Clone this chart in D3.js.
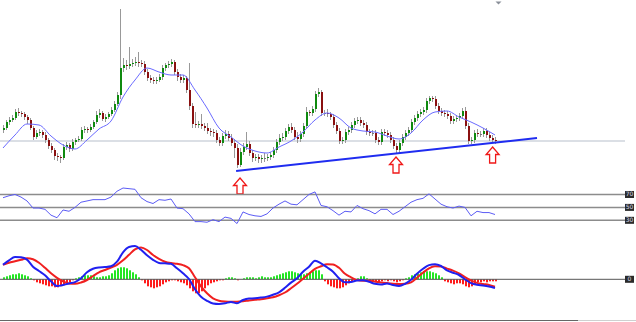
<!DOCTYPE html>
<html>
<head>
  <title>Price with RSI and MACD</title>
  <script src="https://cdn.jsdelivr.net/npm/d3@7.0.0/dist/d3.min.js"></script>
  <style>
    body { margin: 0; background: #fff; }
  </style>
</head>
<body>
  <div id="chart"></div>

  <script>
    // candle data, one entry per bar (price units are arbitrary, no axis shown)
    var opens = [70,72,78,80,82,88,87,86,83,80, 72,63,67,68,65,60,54,50,44,43,
      42,53,55,51,58,60,61,70,71,70, 73,78,85,87,81,83,86,90,96,105,
      132,135,134,136,137,138,137,136,128,122, 120,119,120,123,132,135,136,138,128,123,
      120,122,110,94,76,75,76,74,72,69, 68,67,60,57,64,66,62,57,52,35,
      48,53,56,47,42,43,41,42,42,43, 45,50,58,62,63,69,73,70,63,61,
      66,74,88,87,91,106,108,87,87,86, 83,75,69,59,60,68,70,75,79,80,
      77,75,68,67,67,60,58,68,67,65, 60,54,50,57,63,67,70,78,82,86,
      88,90,99,102,101,94,89,87,86,84, 79,81,82,84,89,74,59,60,67,66,
      66,69,65,62,60];
    var highs = [75,80,83,85,91,92,89,88,85,82, 74,70,71,70,68,62,57,52,47,45,
      56,58,57,61,62,64,73,74,73,76, 80,89,91,89,86,88,93,99,108,191,
      142,140,153,141,143,148,140,139,131,125, 123,123,126,135,137,139,141,140,131,126,
      125,124,137,97,88,79,86,77,77,72, 71,70,63,67,70,69,66,61,56,52,
      57,68,59,50,46,46,45,47,46,48, 53,61,66,67,72,76,77,73,68,69,
      77,93,90,94,109,112,110,90,91,88, 86,78,72,63,71,73,78,82,83,83,
      80,78,71,70,70,63,71,71,70,68, 63,57,60,66,70,73,81,85,89,91,
      93,102,104,104,104,97,92,90,89,87, 84,85,87,92,93,77,63,70,71,69,
      72,72,68,65,63];
    var lows = [67,70,75,78,80,84,83,80,76,70, 60,61,64,62,57,51,47,40,39,37,
      40,50,48,49,55,58,59,67,67,68, 71,76,82,79,78,81,84,88,94,101,
      128,130,131,133,134,133,133,125,119,117, 116,116,118,120,129,132,133,125,119,117,
      117,107,90,72,72,72,71,69,66,64, 63,57,54,54,61,59,54,42,32,33,
      45,50,44,38,39,37,37,38,39,40, 42,47,55,59,60,66,67,60,57,58,
      63,72,84,84,88,103,84,84,83,80, 72,66,56,56,57,65,67,72,76,74,
      72,65,64,64,57,55,55,64,62,57, 51,46,47,54,60,64,67,75,79,83,
      85,87,96,98,91,86,84,83,81,76, 76,78,79,81,71,56,56,57,63,63,
      63,62,59,57,56];
    var closes = [72,78,80,82,88,87,86,83,80,72, 63,67,68,65,60,54,50,44,43,42,
      53,55,51,58,60,61,70,71,70,73, 78,85,87,81,83,86,90,96,105,132,
      135,134,136,137,138,137,136,128,122,120, 119,120,123,132,135,136,138,128,123,120,
      122,110,94,76,75,76,74,72,69,68, 67,60,57,64,66,62,57,52,35,48,
      53,56,47,42,43,41,42,42,43,45, 50,58,62,63,69,73,70,63,61,66,
      74,88,87,91,106,108,87,87,86,83, 75,69,59,60,68,70,75,79,80,77,
      75,68,67,67,60,58,68,67,65,60, 54,50,57,63,67,70,78,82,86,88,
      90,99,102,101,94,89,87,86,84,79, 81,82,84,89,74,59,60,67,66,66,
      69,65,62,60,59];

    // moving average, read every 4th bar
    var maStep = 4;
    var maValues = [52,65,76,75,64,55,51,60,71,79,103,120,132,128,125,125,110,92,72,63,
      54,49,47,53,59,68,80,87,82,72,69,68,64,61,67,80,88,89,83,78,72,65];

    // oscillators, read every 2nd bar
    var oscStep = 2;
    var rsiValues = [65,68,70,66,60,49,49,47,38,34, 46,44,50,58,60,62,62,62,66,75,
      80,79,78,65,59,56,62,61,63,49, 48,40,28,28,27,31,28,35,33,25,
      43,39,37,36,40,49,55,60,55,54, 62,70,74,53,51,45,38,44,43,53,
      48,45,40,47,47,39,44,51,58,62, 64,71,63,55,51,49,52,50,37,44,
      42,42,39];
    var macdValues = [14.5,19,22.3,22,19.7,12.6,8.3,4,-2,-6.8, -5.7,-4.2,-2.8,1,7,10.5,11.8,12.2,13,17.6,
      27,32.3,33.2,29.5,24,19.5,16.4,16,15.5,11, 6,0.3,-10,-17.5,-21.5,-24.2,-24.7,-24,-22.6,-24,
      -20.7,-19.2,-19,-18.3,-17.3,-15.4,-13,-8.5,-3.3,1, 7.6,12.5,18.5,16,12,7.6,1,-3,-2.7,-1.2,
      -1,-2.5,-4.5,-5.3,-4.2,-5.7,-6.7,-4.5,-0.5,5.5, 10.5,14.2,15.1,13.3,8.9,6.6,4.3,0,-3.8,-5.5,
      -6.1,-7.1,-8.7];
    var signalValues = [14.5,16.5,18,19.5,21,20,16.5,11.5,6,1.5, -2,-4.2,-4.5,-3.2,-0.7,3.3,7,9.3,11.8,14.5,
      19,24.5,30,31.8,29.3,24.3,20.5,17.6,16.2,15.5, 14.2,11,2,-7,-14,-19,-21.4,-22.2,-22.4,-22.4,
      -22,-21.2,-20.5,-19.9,-19,-18,-16,-13.2,-9,-4.5, 0.5,5.5,10.5,13,15,14.8,11.5,5.5,2,-0.8,
      -1.4,-1.4,-2.2,-3.1,-3.8,-4.4,-4.7,-4.5,-3,1.6, 6.6,11,13,12.8,10.7,8.7,6,2.2,-1,-3.6,
      -4.7,-5.7,-7.4];
    // histogram, one per bar
    var histValues = [2,3,4,5,5,6,5,4,3,1, -1,-3,-4,-5,-6,-7,-7,-8,-8,-7,
      -6,-4,-3,-1,1,2,3,4,4,4, 3,2,2,3,3,4,6,9,11,12,
      12,11,9,7,5,2,-1,-4,-7,-8, -9,-8,-7,-5,-3,-2,-1,-1,-2,-3,
      -4,-6,-9,-12,-14,-14,-12,-9,-6,-4, -3,-2,-1,-1,1,2,2,1,-1,0,
      1,2,2,2,1,2,3,2,2,2, 3,4,5,6,7,8,8,7,6,5,
      5,6,7,8,9,9,5,-2,-5,-7, -8,-9,-9,-8,-6,-4,-2,-1,1,3,
      3,1,-1,-2,-3,-3,-2,-1,-2,-1, -2,-3,-2,-1,1,2,4,5,6,7,
      8,8,8,7,6,4,2,-2,-3,-4, -5,-4,-4,-5,-7,-8,-7,-5,-3,-3,
      -2,-3,-2,-2,-2];

    var rsiLevels = [70, 50, 30];
    var levelPrice = 59;
    var trendLine = [[77.7, 29], [178, 62]];   // [bar, price]
    var arrowBars = [79, 131, 163.2];
    var arrowTips = [22, 43, 53];

    var width = 636, height = 322;
    var svg = d3.select("#chart").append("svg")
      .attr("width", width)
      .attr("height", height);

    // scales
    var x = d3.scaleLinear().domain([0, closes.length - 1]).range([3, 495]);
    var y = d3.scaleLinear().domain([30, 200]).range([170, 0]);
    var yRsi = d3.scaleLinear().domain([0, 100]).range([239.7, 175.1]);
    var yMacd = d3.scaleLinear().domain([-40, 40]).range([319.3, 239.3]);
    var lineEnd = 625;

    // horizontal price level
    svg.append("line")
      .attr("x1", 0).attr("x2", lineEnd)
      .attr("y1", y(levelPrice)).attr("y2", y(levelPrice))
      .attr("stroke", "#b8c0cc").attr("stroke-width", 1.2);

    // candles
    var bars = d3.range(closes.length);
    svg.append("g").selectAll("line")
      .data(bars)
      .enter().append("line")
      .attr("x1", function(i) { return Math.round(x(i)) + 0.5; })
      .attr("x2", function(i) { return Math.round(x(i)) + 0.5; })
      .attr("y1", function(i) { return y(highs[i]); })
      .attr("y2", function(i) { return y(lows[i]); })
      .attr("stroke", "#999")
      .attr("stroke-width", 1);

    svg.append("g").selectAll("rect")
      .data(bars)
      .enter().append("rect")
      .attr("x", function(i) { return Math.round(x(i)); })
      .attr("y", function(i) { return y(Math.max(opens[i], closes[i])); })
      .attr("width", 2)
      .attr("height", function(i) { return Math.max(1, Math.abs(y(opens[i]) - y(closes[i]))); })
      .attr("fill", function(i) {
        if (closes[i] > opens[i]) return "#0f8a0f";
        if (closes[i] < opens[i]) return "#8a1010";
        return "#777";
      });

    // moving average
    svg.append("path")
      .datum(maValues)
      .attr("fill", "none")
      .attr("stroke", "#6a6aff")
      .attr("stroke-width", 1)
      .attr("d", d3.line()
        .x(function(d, k) { return x(k * maStep); })
        .y(function(d) { return y(d); })
        .curve(d3.curveMonotoneX));

    // trend line
    svg.append("line")
      .attr("x1", x(trendLine[0][0])).attr("y1", y(trendLine[0][1]))
      .attr("x2", x(trendLine[1][0])).attr("y2", y(trendLine[1][1]))
      .attr("stroke", "#1f2cf0").attr("stroke-width", 2);

    // up arrows
    arrowBars.forEach(function(b, k) {
      var cx = x(b), ty = y(arrowTips[k]);
      var p = [[cx, ty], [cx + 6.5, ty + 7.5], [cx + 3, ty + 7.5], [cx + 3, ty + 16],
               [cx - 3, ty + 16], [cx - 3, ty + 7.5], [cx - 6.5, ty + 7.5]];
      svg.append("path")
        .attr("d", "M" + p.join("L") + "Z")
        .attr("fill", "#fff")
        .attr("stroke", "#f01818")
        .attr("stroke-width", 1.3);
    });

    // small marker at top
    svg.append("path")
      .attr("d", "M495.5,1.5L501.5,1.5L498.5,4.5Z")
      .attr("fill", "#8a8f99");

    // level label box helper
    function levelBox(yy, label) {
      svg.append("rect")
        .attr("x", 625).attr("y", yy - 3.5)
        .attr("width", 9).attr("height", 7)
        .attr("fill", "#2b2b2b");
      svg.append("text")
        .attr("x", 629.5).attr("y", yy + 2)
        .attr("text-anchor", "middle")
        .attr("font-family", "DejaVu Sans")
        .attr("font-size", "6px")
        .attr("fill", "#d8d8e8")
        .text(label);
    }

    // RSI panel
    rsiLevels.forEach(function(lv) {
      svg.append("line")
        .attr("x1", 0).attr("x2", lineEnd)
        .attr("y1", yRsi(lv)).attr("y2", yRsi(lv))
        .attr("stroke", "#8c8c8c").attr("stroke-width", 1.5);
      levelBox(yRsi(lv), String(lv));
    });

    svg.append("path")
      .datum(rsiValues)
      .attr("fill", "none")
      .attr("stroke", "#5c5cf5")
      .attr("stroke-width", 1)
      .attr("d", d3.line()
        .x(function(d, k) { return x(k * oscStep); })
        .y(function(d) { return yRsi(d); }));

    // MACD panel
    svg.append("g").selectAll("rect")
      .data(bars)
      .enter().append("rect")
      .attr("x", function(i) { return Math.round(x(i)); })
      .attr("y", function(i) { return histValues[i] >= 0 ? yMacd(histValues[i]) : yMacd(0); })
      .attr("width", 2)
      .attr("height", function(i) { return Math.abs(yMacd(histValues[i]) - yMacd(0)); })
      .attr("fill", function(i) { return histValues[i] >= 0 ? "#22e622" : "#ff1c1c"; });

    svg.append("line")
      .attr("x1", 0).attr("x2", lineEnd)
      .attr("y1", yMacd(0)).attr("y2", yMacd(0))
      .attr("stroke", "#555").attr("stroke-width", 1);
    levelBox(yMacd(0), "0");

    var oscLine = function(scale) {
      return d3.line()
        .x(function(d, k) { return x(k * oscStep); })
        .y(function(d) { return scale(d); })
        .curve(d3.curveMonotoneX);
    };

    svg.append("path")
      .datum(signalValues)
      .attr("fill", "none")
      .attr("stroke", "#f02020")
      .attr("stroke-width", 2)
      .attr("d", oscLine(yMacd));

    svg.append("path")
      .datum(macdValues)
      .attr("fill", "none")
      .attr("stroke", "#2020f0")
      .attr("stroke-width", 2)
      .attr("d", oscLine(yMacd));

    // bottom border
    svg.append("line")
      .attr("x1", 0).attr("x2", 578)
      .attr("y1", 320.5).attr("y2", 320.5)
      .attr("stroke", "#666").attr("stroke-width", 1);
    svg.append("line")
      .attr("x1", 578).attr("x2", 636)
      .attr("y1", 320.5).attr("y2", 320.5)
      .attr("stroke", "#d0d0d0").attr("stroke-width", 1);
  </script>
</body>
</html>
